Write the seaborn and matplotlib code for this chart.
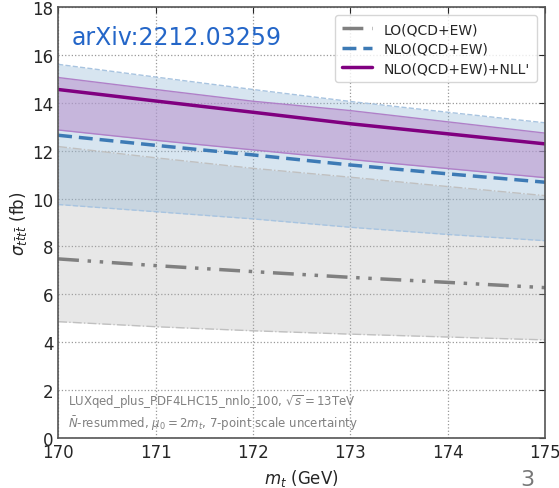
import numpy as np
import pandas as pd
import matplotlib
matplotlib.use("Agg")
import matplotlib.pyplot as plt
import seaborn as sns

mt = [170, 171, 172, 173, 174, 175]
lo_c = [7.48, 7.20, 6.95, 6.71, 6.50, 6.28]
lo_up = [12.17, 11.70, 11.26, 10.89, 10.50, 10.12]
lo_dn = [4.86, 4.65, 4.48, 4.34, 4.22, 4.10]
nlo_c = [12.64, 12.22, 11.82, 11.40, 11.03, 10.68]
nlo_up = [15.60, 15.07, 14.55, 14.05, 13.60, 13.16]
nlo_dn = [9.75, 9.45, 9.15, 8.80, 8.50, 8.24]
nll_c = [14.55, 14.07, 13.60, 13.12, 12.70, 12.28]
nll_up = [15.05, 14.55, 14.06, 13.67, 13.20, 12.73]
nll_dn = [12.86, 12.43, 12.03, 11.63, 11.25, 10.87]
labels = ["LO(QCD+EW)", "NLO(QCD+EW)", "NLO(QCD+EW)+NLL'"]

sns.set_style("white")
plt.rcParams['font.family'] = ['DejaVu Sans']

fig = plt.figure(figsize=(5.59, 4.89), dpi=100)
ax = fig.add_axes([0.104, 0.102, 0.871, 0.882])

grey = "#808080"
blue = "#3d7ab5"
purple = "#800080"

# bands
ax.fill_between(mt, lo_dn, lo_up, color="#b0b0b0", alpha=0.3, lw=0)
ax.plot(mt, lo_up, color="#c0c0c0", ls="-.", lw=1)
ax.plot(mt, lo_dn, color="#c0c0c0", ls="-.", lw=1)
ax.fill_between(mt, nlo_dn, nlo_up, color="#8fb5d5", alpha=0.35, lw=0)
ax.plot(mt, nlo_up, color="#a8c4e0", ls="--", lw=1)
ax.plot(mt, nlo_dn, color="#a8c4e0", ls="--", lw=1)
ax.fill_between(mt, nll_dn, nll_up, color="#b890cc", alpha=0.55, lw=0)
ax.plot(mt, nll_up, color="#b080c8", ls="-", lw=1)
ax.plot(mt, nll_dn, color="#b080c8", ls="-", lw=1)

df = pd.DataFrame({"mt": mt * 3,
                   "sigma": lo_c + nlo_c + nll_c,
                   "order": [labels[0]] * 6 + [labels[1]] * 6 + [labels[2]] * 6})
sns.lineplot(data=df[df.order == labels[0]], x="mt", y="sigma", ax=ax, color=grey,
             lw=2.5, label=labels[0])
sns.lineplot(data=df[df.order == labels[1]], x="mt", y="sigma", ax=ax, color=blue,
             lw=2.5, label=labels[1])
sns.lineplot(data=df[df.order == labels[2]], x="mt", y="sigma", ax=ax, color=purple,
             lw=2.5, label=labels[2])
ax.lines[-3].set_linestyle((0, (6, 2.5, 1, 2.5, 1, 2.5)))
ax.lines[-2].set_linestyle((0, (4, 2)))

ax.set_xlim(170, 175)
ax.set_ylim(0, 18)
ax.set_xticks([170, 171, 172, 173, 174, 175])
ax.set_yticks(np.arange(0, 19, 2))
ax.tick_params(direction="in", labelsize=12, length=4, right=True, top=True)
ax.grid(True, ls=":", color="#999999", lw=0.9)
for s in ax.spines.values():
    s.set_color("#555555")
    s.set_linewidth(1.2)

ax.set_xlabel("$m_t$ (GeV)", fontsize=12, labelpad=4)
ax.set_ylabel(r"$\sigma_{t\bar{t}t\bar{t}}$ (fb)", fontsize=12, labelpad=2)

leg = ax.legend(loc="upper right", fontsize=10, frameon=True, handlelength=2.2,
                borderpad=0.5, labelspacing=0.4, borderaxespad=0.6)
leg.get_frame().set_edgecolor("#cccccc")

ax.text(0.028, 0.93, "arXiv:2212.03259", transform=ax.transAxes, fontsize=17,
        color="#2466c8", va="center", ha="left")
ax.text(0.02, 0.085, r"LUXqed_plus_PDF4LHC15_nnlo_100, $\sqrt{s}=13$TeV",
        transform=ax.transAxes, fontsize=8.5, color="#808080", va="center")
ax.text(0.02, 0.035, r"$\bar{N}$-resummed, $\mu_0=2m_t$, 7-point scale uncertainty",
        transform=ax.transAxes, fontsize=8.5, color="#808080", va="center")
fig.text(527 / 559, 1 - 480 / 489, "3", fontsize=16, color="#777777",
         ha="center", va="center")

fig.savefig("out.png", dpi=100)
